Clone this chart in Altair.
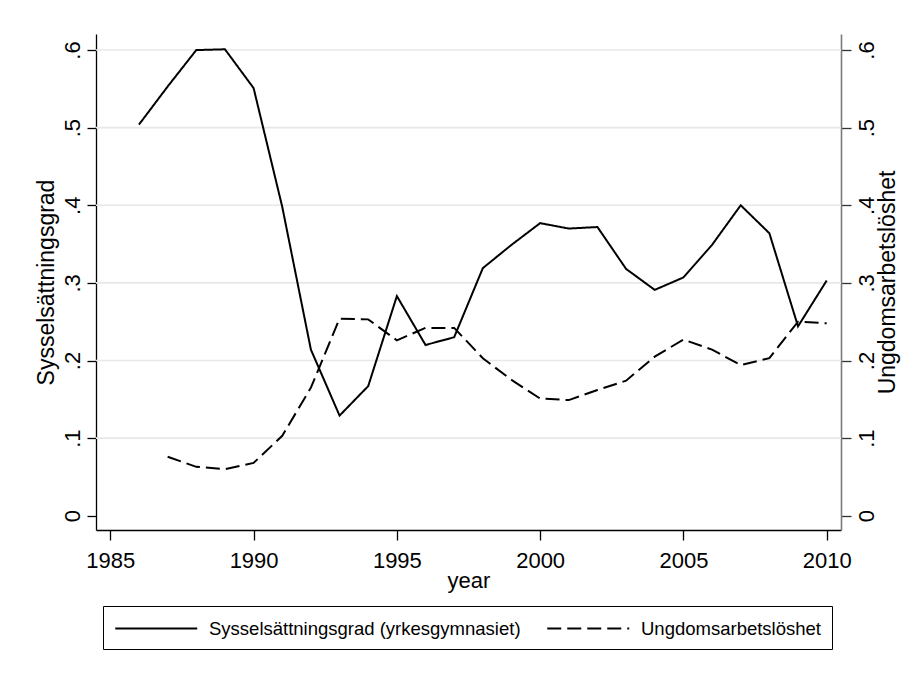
import altair as alt
import pandas as pd

years = list(range(1986, 2011))
syssel = [0.504, 0.553, 0.600, 0.601, 0.551, 0.398, 0.214, 0.129, 0.167, 0.283,
          0.220, 0.230, 0.319, 0.349, 0.377, 0.370, 0.372, 0.318, 0.291, 0.307,
          0.349, 0.400, 0.364, 0.244, 0.303]
ungdom = [None, 0.076, 0.063, 0.060, 0.068, 0.103, 0.165, 0.254, 0.253, 0.226,
          0.242, 0.242, 0.203, 0.175, 0.151, 0.149, 0.162, 0.174, 0.205, 0.227,
          0.214, 0.194, 0.203, 0.250, 0.248]

S1 = "Sysselsättningsgrad (yrkesgymnasiet)"
S2 = "Ungdomsarbetslöshet"
y_ticks = [0, 0.1, 0.2, 0.3, 0.4, 0.5, 0.6]
grid_values = [0.1, 0.2, 0.3, 0.4, 0.5, 0.6]
x_ticks = [1985, 1990, 1995, 2000, 2005, 2010]

df1 = pd.DataFrame({"year": years, "value": syssel, "series": S1})
df2 = pd.DataFrame({"year": years, "value": ungdom, "series": S2}).dropna()
grid_df = pd.DataFrame({"g": grid_values})

FONT = "Liberation Sans"
ydom = [-0.0184, 0.6207]
yscale = alt.Scale(domain=ydom, nice=False, zero=False)
xscale = alt.Scale(domain=[1984.5, 2010.5], nice=False, zero=False)
label_expr = "datum.value == 0 ? '0' : '.' + format(datum.value * 10, '.0f')"

x_axis = alt.Axis(values=x_ticks, format="d", tickSize=10, labelPadding=10,
                  labelFontSize=22, labelFont=FONT, labelColor="black",
                  labelFlush=False, labelOverlap=False,
                  title="year", titleFontSize=22, titleFont=FONT,
                  titleFontWeight="normal", titleColor="black",
                  titleX=372.5, titleY=57, titleBaseline="alphabetic",
                  titleAlign="center", grid=False, domainColor="black",
                  tickColor="black", domainWidth=1.3, tickWidth=1.3)

left_axis = alt.Axis(orient="left", values=y_ticks, labelExpr=label_expr,
                     labelAngle=270, labelAlign="center", labelBaseline="alphabetic",
                     labelPadding=8, tickSize=9, labelFontSize=22, labelFont=FONT,
                     labelColor="black", labelFlush=False, labelOverlap=False,
                     title="Sysselsättningsgrad", titleFontSize=23, titleFont=FONT,
                     titleFontWeight="normal", titleColor="black", titleAngle=270,
                     titleX=-43, titleY=248, titleBaseline="alphabetic",
                     titleAlign="center", grid=False, domainColor="black",
                     tickColor="black", domainWidth=1.3, tickWidth=1.3)

right_axis = alt.Axis(orient="right", values=y_ticks, labelExpr=label_expr,
                      labelAngle=270, labelAlign="center", labelBaseline="top",
                      labelPadding=5, tickSize=10, labelFontSize=22, labelFont=FONT,
                      labelColor="black", labelFlush=False, labelOverlap=False,
                      title="Ungdomsarbetslöshet", titleFontSize=23, titleFont=FONT,
                      titleFontWeight="normal", titleColor="black", titleAngle=270,
                      titleX=35, titleY=248, titleBaseline="top",
                      titleAlign="center", grid=False, domainColor="#7a7a7a",
                      tickColor="#333333", domainWidth=1.6, tickWidth=1.3)

dash_scale = alt.Scale(domain=[S1, S2], range=[[1, 0], [14, 6]])
legend = alt.Legend(title=None, orient="none", legendX=7, legendY=572,
                    direction="horizontal", columns=2,
                    symbolType="M-1,0H7", symbolSize=420,
                    symbolStrokeColor="black", symbolStrokeWidth=2,
                    symbolFillColor="transparent",
                    labelFontSize=18.5, labelFont=FONT, labelColor="black",
                    labelOffset=72, labelLimit=0, columnPadding=22,
                    padding=11, strokeColor="black", fillColor="white")

grid = alt.Chart(grid_df).mark_rule(color="#e8e8e8", strokeWidth=1.6).encode(
    y=alt.Y("g:Q", scale=yscale, axis=None)
)

solid = alt.Chart(df1).mark_line(color="black", strokeWidth=2).encode(
    x=alt.X("year:Q", scale=xscale, axis=x_axis),
    y=alt.Y("value:Q", scale=yscale, axis=left_axis),
    strokeDash=alt.StrokeDash("series:N", scale=dash_scale, legend=legend),
)

dashed = alt.Chart(df2).mark_line(color="black", strokeWidth=2).encode(
    x=alt.X("year:Q", scale=xscale, axis=x_axis),
    y=alt.Y("value:Q", scale=yscale, axis=right_axis),
    strokeDash=alt.StrokeDash("series:N", scale=dash_scale, legend=legend),
)

chart = alt.layer(grid, solid, dashed).resolve_scale(y="independent").properties(
    width=745, height=496,
    autosize=alt.AutoSizeParams(type="none"),
    padding={"left": 88, "top": 26, "right": 60, "bottom": 130},
    background="white",
).configure_view(stroke=None)

chart.save("out.html", embed_options={"renderer": "svg", "actions": False})
